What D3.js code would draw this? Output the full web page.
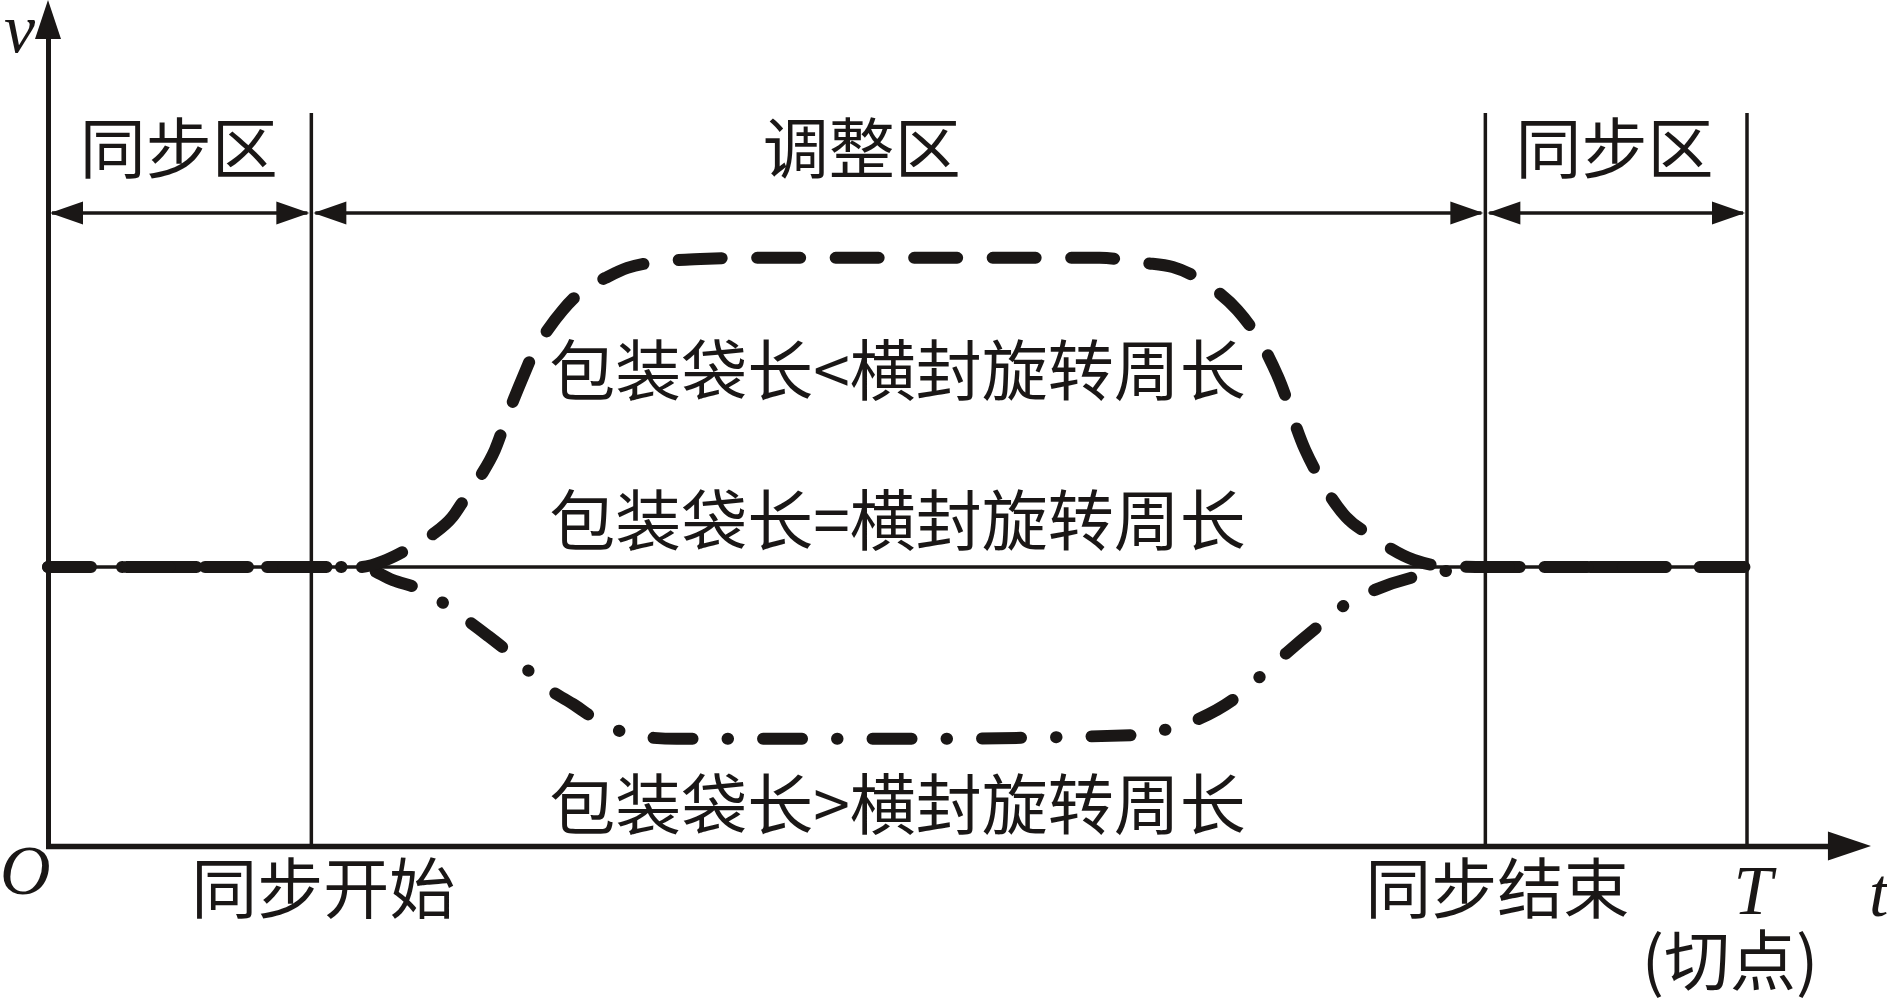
<!DOCTYPE html>
<html>
<head>
<meta charset="utf-8">
<script src="https://cdn.jsdelivr.net/npm/d3@7"></script>
<style>
  body { margin: 0; background: #fff; }
</style>
</head>
<body>
<div class="vizHolder"></div>
<script>
var width = 1887,
    height = 998;

// time runs 0..T (T = 100), speed is 1 when bag length equals seal circumference
var zoneEdges = [0, 15.5, 84.6, 100];
var zoneNames = ['同步区', '调整区', '同步区'];
var zoneLabelT = [7.7, 47.9, 92.2];

// bag length < seal circumference (dashed)
var fastT = [0, 15.5, 18.4, 19.9, 21.3, 22.6, 23.8, 24.6, 25.5, 26.3, 27.1, 28.0, 28.6, 29.4, 30.3, 31.5, 32.8, 34.1, 35.8, 38.4, 41.4, 50, 61.9, 64.5, 66.2, 68.7, 70.0, 71.7, 72.4, 74.0, 74.8, 76.4, 77.8, 80.4, 82.0, 84.6, 100];
var fastV = [1, 1, 1, 1.025, 1.068, 1.115, 1.179, 1.251, 1.330, 1.419, 1.552, 1.688, 1.771, 1.849, 1.921, 1.993, 2.036, 2.072, 2.093, 2.104, 2.108, 2.108, 2.108, 2.090, 2.075, 1.993, 1.921, 1.771, 1.681, 1.419, 1.323, 1.179, 1.115, 1.025, 1.004, 1, 1];

// bag length = seal circumference (thin solid)
var equalT = [0, 100];
var equalV = [1, 1];

// bag length > seal circumference (dash-dot)
var slowT = [0, 15.5, 18.4, 20.3, 22.0, 24.4, 25.9, 27.3, 29.4, 31.0, 32.5, 35.1, 37.0, 50, 64.3, 65.9, 67.6, 70.2, 71.5, 72.9, 75.0, 76.5, 78.1, 80.9, 82.7, 84.6, 100];
var slowV = [1, 1, 1, 0.953, 0.918, 0.821, 0.753, 0.685, 0.566, 0.505, 0.444, 0.391, 0.384, 0.384, 0.398, 0.419, 0.452, 0.545, 0.616, 0.692, 0.799, 0.871, 0.918, 0.971, 0.989, 1, 1];

var curveLabels = ['包装袋长<横封旋转周长', '包装袋长=横封旋转周长', '包装袋长>横封旋转周长'];
var curveLabelT = [50, 50, 50];
var curveLabelV = [1.72, 1.183, 0.165];

var cjk = '"Noto Sans CJK SC", "Noto Sans", sans-serif';
var serif = '"Liberation Serif", "DejaVu Serif", serif';

var svg = d3.select('.vizHolder')
            .append('svg')
            .attr('width', width)
            .attr('height', height);

var xScale = d3.scaleLinear().domain([0, 100]).range([48, 1747]);
var yScale = d3.scaleLinear().domain([0, 3]).range([846, 9]);

//axes, no ticks, arrow heads at the ends
var xEnd = 105, xTip = 107.3;
var yEnd = 2.9, yTip = 3.032;

var xAxis = d3.axisBottom(d3.scaleLinear().domain([0, xEnd]).range([xScale(0) - 2.5, xScale(xEnd)]))
              .tickValues([]).tickSizeOuter(0);
var yAxis = d3.axisLeft(d3.scaleLinear().domain([0, yEnd]).range([yScale(0) + 2.5, yScale(yEnd)]))
              .tickValues([]).tickSizeOuter(0);

svg.append('g').attr('id', 'x-axis')
   .attr('transform', 'translate(0,' + yScale(0) + ')')
   .call(xAxis)
   .select('.domain').attr('stroke', '#1a1716').attr('stroke-width', 5.5);

svg.append('g').attr('id', 'y-axis')
   .attr('transform', 'translate(' + xScale(0) + ',0)')
   .call(yAxis)
   .select('.domain').attr('stroke', '#1a1716').attr('stroke-width', 5);

svg.append('path')
   .attr('d', 'M' + xScale(xTip) + ',' + yScale(0) +
              'L' + (xScale(xEnd) - 4) + ',' + (yScale(0) - 14.5) +
              'L' + (xScale(xEnd) - 4) + ',' + (yScale(0) + 14.5) + 'Z')
   .attr('fill', '#1a1716');

svg.append('path')
   .attr('d', 'M' + xScale(0) + ',' + yScale(yTip) +
              'L' + (xScale(0) - 13) + ',' + (yScale(yEnd) + 2) +
              'L' + (xScale(0) + 13) + ',' + (yScale(yEnd) + 2) + 'Z')
   .attr('fill', '#1a1716');

//zone dividers
var dividerTop = 2.627;
svg.selectAll('.divider')
   .data(zoneEdges.slice(1))
   .enter().append('line')
   .attr('class', 'divider')
   .attr('x1', function(d){ return xScale(d); })
   .attr('x2', function(d){ return xScale(d); })
   .attr('y1', yScale(dividerTop))
   .attr('y2', yScale(0))
   .attr('stroke', '#1a1716')
   .attr('stroke-width', 3.5);

//double arrows for each zone
var arrowV = 2.269, headLen = 33, headHalf = 11.5;
var zones = zoneNames.map(function(n, i){
    return { name: n, t0: zoneEdges[i], t1: zoneEdges[i + 1], tl: zoneLabelT[i] };
});

var zoneG = svg.selectAll('.zone').data(zones).enter().append('g').attr('class', 'zone');
var ay = yScale(arrowV);

zoneG.append('line')
     .attr('x1', function(d){ return xScale(d.t0) + 4; })
     .attr('x2', function(d){ return xScale(d.t1) - 4; })
     .attr('y1', ay).attr('y2', ay)
     .attr('stroke', '#1a1716')
     .attr('stroke-width', 3.5);

zoneG.append('path')
     .attr('d', function(d){
         var a = xScale(d.t0) + 2, b = xScale(d.t1) - 2;
         return 'M' + a + ',' + ay + 'L' + (a + headLen) + ',' + (ay - headHalf) + 'L' + (a + headLen) + ',' + (ay + headHalf) + 'Z' +
                'M' + b + ',' + ay + 'L' + (b - headLen) + ',' + (ay - headHalf) + 'L' + (b - headLen) + ',' + (ay + headHalf) + 'Z';
     })
     .attr('fill', '#1a1716');

zoneG.append('text')
     .attr('x', function(d){ return xScale(d.tl); })
     .attr('y', 144)
     .attr('text-anchor', 'middle')
     .attr('dominant-baseline', 'central')
     .style('font-family', cjk)
     .style('font-size', '66px')
     .attr('fill', '#1a1716')
     .text(function(d){ return d.name; });

//curves
var line = d3.line()
             .x(function(d){ return xScale(d[0]); })
             .y(function(d){ return yScale(d[1]); })
             .curve(d3.curveMonotoneX);

svg.append('path')
   .datum(d3.zip(equalT, equalV))
   .attr('d', line)
   .attr('fill', 'none')
   .attr('stroke', '#1a1716')
   .attr('stroke-width', 3.5);

svg.append('path')
   .datum(d3.zip(slowT, slowV))
   .attr('d', line)
   .attr('fill', 'none')
   .attr('stroke', '#1a1716')
   .attr('stroke-width', 12)
   .attr('stroke-linecap', 'round')
   .attr('stroke-dasharray', '39,35,0.5,35');

svg.append('path')
   .datum(d3.zip(fastT, fastV))
   .attr('d', line)
   .attr('fill', 'none')
   .attr('stroke', '#1a1716')
   .attr('stroke-width', 12)
   .attr('stroke-linecap', 'round')
   .attr('stroke-dasharray', '43,35.5');

//curve labels
svg.selectAll('.curveLabel')
   .data(curveLabels)
   .enter().append('text')
   .attr('class', 'curveLabel')
   .attr('x', function(d, i){ return xScale(curveLabelT[i]); })
   .attr('y', function(d, i){ return yScale(curveLabelV[i]); })
   .attr('text-anchor', 'middle')
   .attr('dominant-baseline', 'central')
   .style('font-family', cjk)
   .style('font-size', '66px')
   .attr('fill', '#1a1716')
   .text(function(d){ return d; });

//labels under the time axis
var timeLabels = ['同步开始', '同步结束', '(切点)'];
var timeLabelT = [16.2, 85.3, 99.0];
var timeLabelY = [884, 884, 956];

svg.selectAll('.timeLabel')
   .data(timeLabels)
   .enter().append('text')
   .attr('class', 'timeLabel')
   .attr('x', function(d, i){ return xScale(timeLabelT[i]); })
   .attr('y', function(d, i){ return timeLabelY[i]; })
   .attr('text-anchor', 'middle')
   .attr('dominant-baseline', 'central')
   .style('font-family', cjk)
   .style('font-size', '66px')
   .attr('fill', '#1a1716')
   .text(function(d){ return d; });

//italic symbols
var symbols = [
    { s: 'v', x: 4, y: 52, a: 'start' },
    { s: 'O', x: 0, y: 894, a: 'start' },
    { s: 'T', x: 1753, y: 914, a: 'middle' },
    { s: 't', x: 1869, y: 916, a: 'start' }
];

svg.selectAll('.sym')
   .data(symbols)
   .enter().append('text')
   .attr('class', 'sym')
   .attr('x', function(d){ return d.x; })
   .attr('y', function(d){ return d.y; })
   .attr('text-anchor', function(d){ return d.a; })
   .style('font-family', serif)
   .style('font-style', 'italic')
   .style('font-size', '70px')
   .attr('fill', '#1a1716')
   .text(function(d){ return d.s; });
</script>
</body>
</html>
